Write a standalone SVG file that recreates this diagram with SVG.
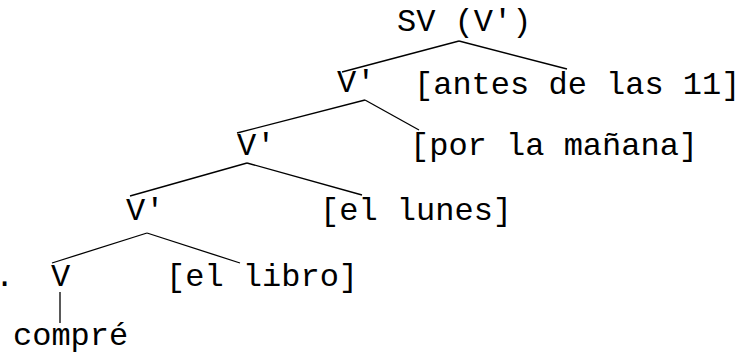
<svg xmlns="http://www.w3.org/2000/svg" width="741" height="355" viewBox="0 0 741 355">
<style>
text{font-family:"Liberation Mono","Courier New",monospace;font-size:32px;fill:#000}
.e line{stroke:#000;stroke-width:1.3}
</style>
<rect width="741" height="355" fill="#fff"/>
<g id="n-sv"><text x="397" y="31">SV (V')</text></g>
<g id="n-v1"><text x="337" y="92">V'</text></g>
<g id="n-antes"><text x="414" y="94">[antes de las 11]</text></g>
<g id="n-v2"><text x="237" y="155">V'</text></g>
<g id="n-manana"><text x="410" y="155">[por la mañana]</text></g>
<g id="n-v3"><text x="126" y="220">V'</text></g>
<g id="n-lunes"><text x="320" y="220">[el lunes]</text></g>
<g id="n-v"><text x="51" y="286">V</text></g>
<g id="n-libro"><text x="166" y="286">[el libro]</text></g>
<g id="n-dot"><text x="-5" y="286">.</text></g>
<g id="n-compre"><text x="13" y="345">compré</text></g>
<g id="edges" class="e">
<line x1="459" y1="41" x2="342" y2="72"/>
<line x1="459" y1="41" x2="567" y2="69"/>
<line x1="365" y1="100" x2="237" y2="133"/>
<line x1="365" y1="100" x2="419" y2="130"/>
<line x1="247" y1="163" x2="130" y2="196"/>
<line x1="247" y1="163" x2="362" y2="195"/>
<line x1="147" y1="233" x2="52" y2="263"/>
<line x1="147" y1="233" x2="240" y2="263"/>
<line x1="60" y1="292" x2="60" y2="323"/>
</g>
</svg>
